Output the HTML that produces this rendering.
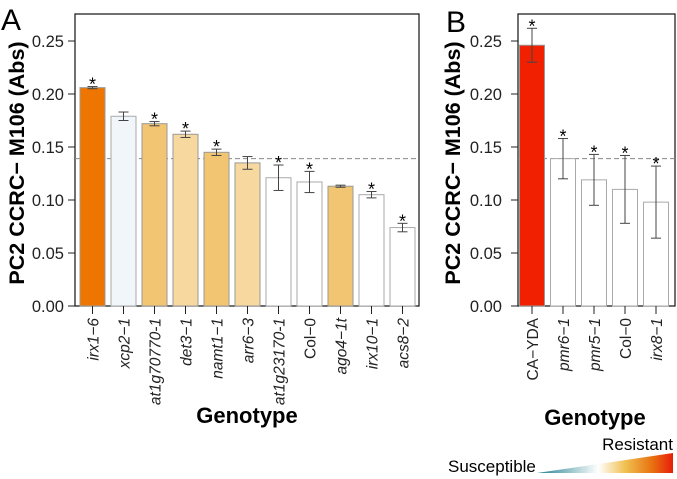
<!DOCTYPE html>
<html><head><meta charset="utf-8"><style>
body{margin:0;background:#fff;}
svg{display:block;font-family:"Liberation Sans",Arial,sans-serif;}
</style></head><body>
<svg id="chart" width="677" height="479" viewBox="0 0 677 479">
<defs>
<linearGradient id="grad" x1="0" x2="1" y1="0" y2="0">
<stop offset="0" stop-color="#1f7f90"/><stop offset="0.45" stop-color="#ffffff"/>
<stop offset="0.65" stop-color="#f0c050"/><stop offset="0.85" stop-color="#e87010"/><stop offset="1" stop-color="#e81e0a"/>
</linearGradient>
</defs>
<g id="gA"></g>
<g id="gB"></g>
<text x="1" y="30" font-size="30">A</text>
<text x="446" y="32" font-size="30">B</text>
<text x="247" y="423" font-size="22" font-weight="bold" text-anchor="middle">Genotype</text>
<text x="595" y="425" font-size="22" font-weight="bold" text-anchor="middle">Genotype</text>
<g>
<polygon points="537,473 673,453 673,473" fill="url(#grad)"/>
<text x="673" y="450" font-size="17" text-anchor="end">Resistant</text>
<text x="448" y="472" font-size="17">Susceptible</text>
</g>
</svg>
<script>
const catsA = ["irx1\u22126","xcp2\u22121","at1g70770-1","det3\u22121","namt1\u22121","arr6\u22123","at1g23170-1","Col\u22120","ago4\u22121t","irx10\u22121","acs8\u22122"];
const valsA = [0.206,0.179,0.172,0.162,0.145,0.135,0.121,0.117,0.113,0.105,0.074];
const errA = [0.001,0.004,0.002,0.003,0.003,0.006,0.012,0.010,0.001,0.003,0.004];
const sigA = [1,0,1,1,1,0,1,1,0,1,1];
const colA = ["#ee7600","#f0f6fa","#f2c572","#f7d9a0","#f2c572","#f7d9a0","#ffffff","#ffffff","#f2c572","#ffffff","#ffffff"];
const italA = [1,1,1,1,1,1,1,0,1,1,1];
const catsB = ["CA\u2212YDA","pmr6\u22121","pmr5\u22121","Col\u22120","irx8\u22121"];
const valsB = [0.246,0.139,0.119,0.110,0.098];
const errB = [0.016,0.019,0.024,0.032,0.034];
const sigB = [1,1,1,1,1];
const colB = ["#f02000","#ffffff","#ffffff","#ffffff","#ffffff"];
const italB = [0,1,1,0,1];
const ticks = [0,0.05,0.10,0.15,0.20,0.25];
const refLine = 0.139;
const NS="http://www.w3.org/2000/svg";
function mk(p,t,a){const e=document.createElementNS(NS,t);for(const k in a)e.setAttribute(k,a[k]);p.appendChild(e);return e;}
const y=v=>306-v*1060;
function panel(g,L,R,first,cats,vals,errs,sig,cols,ital,tickX,titleX,pre){
  mk(g,'rect',{x:L,y:14,width:R-L,height:292,fill:'none',stroke:'#222','stroke-width':1.3});
  const yt=mk(g,'text',{transform:`translate(${titleX},163) rotate(-90)`,'font-size':21.5,'font-weight':'bold','text-anchor':'middle'});
  yt.textContent='PC2 CCRC\u2212 M106  (Abs)';
  
  
  ticks.forEach(t=>{
    mk(g,'line',{x1:L-7,x2:L,y1:y(t),y2:y(t),stroke:'#222'});
    const tx=mk(g,'text',{x:tickX,y:y(t)+6,'font-size':16.5,'text-anchor':'end',fill:'#222'});
    tx.textContent=t.toFixed(2);
    
    
  });
  const ln=mk(g,'line',{x1:L,x2:R,y1:y(refLine),y2:y(refLine),stroke:'#888','stroke-dasharray':'5,3'});
  
  
  cats.forEach((c,i)=>{
    const cx=first+31*i;
    const b=mk(g,'rect',{x:cx-12.5,y:y(vals[i]),width:25,height:vals[i]*1060,fill:cols[i],stroke:cols[i]=='#ffffff'||cols[i]=='#f0f6fa'?'#aaa':'#999','stroke-width':1});
    
    
    const hi=y(vals[i]+errs[i]),lo=y(vals[i]-errs[i]);
    mk(g,'line',{x1:cx,x2:cx,y1:hi,y2:lo,stroke:'#444'});
    mk(g,'line',{x1:cx-5,x2:cx+5,y1:hi,y2:hi,stroke:'#444'});
    mk(g,'line',{x1:cx-5,x2:cx+5,y1:lo,y2:lo,stroke:'#444'});
    if(sig[i]){const s=mk(g,'text',{x:cx,y:hi+4,'font-size':18,'text-anchor':'middle'});s.textContent='*';
      
      }
    mk(g,'line',{x1:cx,x2:cx,y1:306,y2:314,stroke:'#222'});
    const lt=mk(g,'text',{transform:`translate(${cx+6},318) rotate(-90)`,'font-size':15.5,'text-anchor':'end','font-style':ital[i]?'italic':'normal',fill:'#222'});
    lt.textContent=c;
    
    
  });
}
panel(document.getElementById('gA'),75,419,92.5,catsA,valsA,errA,sigA,colA,italA,64,24,'a-');
panel(document.getElementById('gB'),518,675,532,catsB,valsB,errB,sigB,colB,italB,502,460,'b-');
</script>
</body></html>
